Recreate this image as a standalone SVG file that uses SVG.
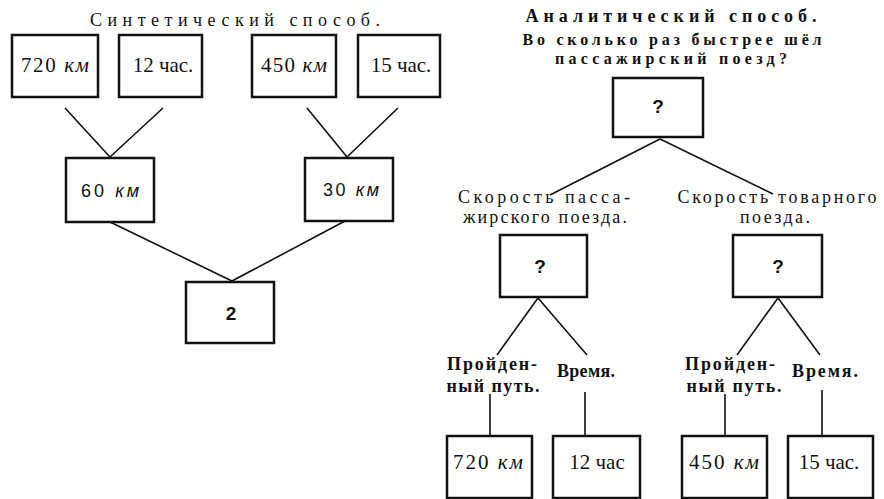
<svg xmlns="http://www.w3.org/2000/svg" width="884" height="499" viewBox="0 0 884 499">
<style>
.box{fill:#fff;stroke:#111;stroke-width:2.5}
.ln{stroke:#111;stroke-width:1.6;fill:none}
.t{font-family:"Liberation Serif","DejaVu Serif",serif;font-size:18px;fill:#111}
.h{font-size:16px}
.v{font-family:"Liberation Serif","DejaVu Serif",serif;font-size:21px;fill:#111}
.s{font-family:"Liberation Sans","DejaVu Sans",sans-serif;font-size:18px;fill:#111}
.q{font-family:"Liberation Sans","DejaVu Sans",sans-serif;font-size:19px;font-weight:bold;fill:#111}
.b{font-weight:bold}
.i{font-style:italic}
.m{text-anchor:middle}
</style>
<rect width="884" height="499" fill="#fff"/>
<g id="connectors">
<path class="ln" d="M65,108 L110,157 M163,108 L110,157"/>
<path class="ln" d="M307,108 L347,157 M398,108 L347,157"/>
<path class="ln" d="M110,222 L232,281 M345,221 L232,281"/>
<path class="ln" d="M660,139 L550,195 M660,139 L773,194"/>
<path class="ln" d="M538,298 L497,355 M538,298 L587,355"/>
<path class="ln" d="M778,298 L737,355 M778,298 L820,355"/>
<path class="ln" d="M490,394 L490,436 M585,392 L585,436 M725,394 L725,436 M822,390 L822,436"/>
</g>
<g id="title-synthetic"><text class="t m" x="235" y="26" textLength="290" lengthAdjust="spacing">Синтетический способ.</text></g>
<g id="n720"><rect class="box" x="12" y="35" width="86" height="62"/><text class="v m" x="55" y="72" textLength="68" lengthAdjust="spacing">720 <tspan class="i">км</tspan></text></g>
<g id="n12"><rect class="box" x="119" y="35" width="83" height="62"/><text class="v m" x="163" y="72">12 час.</text></g>
<g id="n450"><rect class="box" x="252" y="35" width="84" height="62"/><text class="v m" x="294" y="72" textLength="66" lengthAdjust="spacing">450 <tspan class="i">км</tspan></text></g>
<g id="n15"><rect class="box" x="358" y="35" width="82" height="62"/><text class="v m" x="401" y="72">15 час.</text></g>
<g id="n60"><rect class="box" x="66" y="158" width="88" height="64"/><text class="s m" x="110" y="197" textLength="58" lengthAdjust="spacing">60 <tspan class="i">км</tspan></text></g>
<g id="n30"><rect class="box" x="305" y="158" width="88" height="63"/><text class="s m" x="351" y="196" textLength="56" lengthAdjust="spacing">30 <tspan class="i">км</tspan></text></g>
<g id="n2"><rect class="box" x="186" y="282" width="88" height="61"/><text class="q m" x="231" y="320">2</text></g>
<g id="title-analytic">
<text class="t b m" x="671" y="22" textLength="291" lengthAdjust="spacing">Аналитический способ.</text>
<text class="t h b m" x="672" y="45" textLength="299" lengthAdjust="spacing">Во сколько раз быстрее шёл</text>
<text class="t h b m" x="671" y="64" textLength="232" lengthAdjust="spacing">пассажирский поезд?</text>
</g>
<g id="q-top"><rect class="box" x="613" y="78" width="90" height="59"/><text class="q m" x="658" y="113">?</text></g>
<g id="label-pass"><text class="t m" x="544" y="203" textLength="172" lengthAdjust="spacing">Скорость пасса-</text><text class="t m" x="545" y="223" textLength="164" lengthAdjust="spacing">жирского поезда.</text></g>
<g id="label-goods"><text class="t m" x="777" y="203" textLength="199" lengthAdjust="spacing">Скорость товарного</text><text class="t m" x="775" y="223" textLength="70" lengthAdjust="spacing">поезда.</text></g>
<g id="q-pass"><rect class="box" x="500" y="235" width="87" height="62"/><text class="q m" x="540" y="273">?</text></g>
<g id="q-goods"><rect class="box" x="733" y="235" width="89" height="62"/><text class="q m" x="778" y="273">?</text></g>
<g id="label-path1"><text class="t b m" x="492" y="370" textLength="90" lengthAdjust="spacing">Пройден-</text><text class="t b m" x="493" y="392" textLength="93" lengthAdjust="spacing">ный путь.</text></g>
<g id="label-time1"><text class="t b m" x="586" y="377" textLength="58" lengthAdjust="spacing">Время.</text></g>
<g id="label-path2"><text class="t b m" x="730" y="370" textLength="90" lengthAdjust="spacing">Пройден-</text><text class="t b m" x="734" y="392" textLength="95" lengthAdjust="spacing">ный путь.</text></g>
<g id="label-time2"><text class="t b m" x="825" y="377" textLength="66" lengthAdjust="spacing">Время.</text></g>
<g id="b720"><rect class="box" x="447" y="436" width="85" height="62"/><text class="v m" x="488" y="469" textLength="70" lengthAdjust="spacing">720 <tspan class="i">км</tspan></text></g>
<g id="b12"><rect class="box" x="553" y="436" width="87" height="62"/><text class="v m" x="597" y="469">12 час</text></g>
<g id="b450"><rect class="box" x="682" y="436" width="85" height="62"/><text class="v m" x="724" y="469" textLength="70" lengthAdjust="spacing">450 <tspan class="i">км</tspan></text></g>
<g id="b15"><rect class="box" x="788" y="436" width="85" height="62"/><text class="v m" x="829" y="469">15 час.</text></g>
</svg>
